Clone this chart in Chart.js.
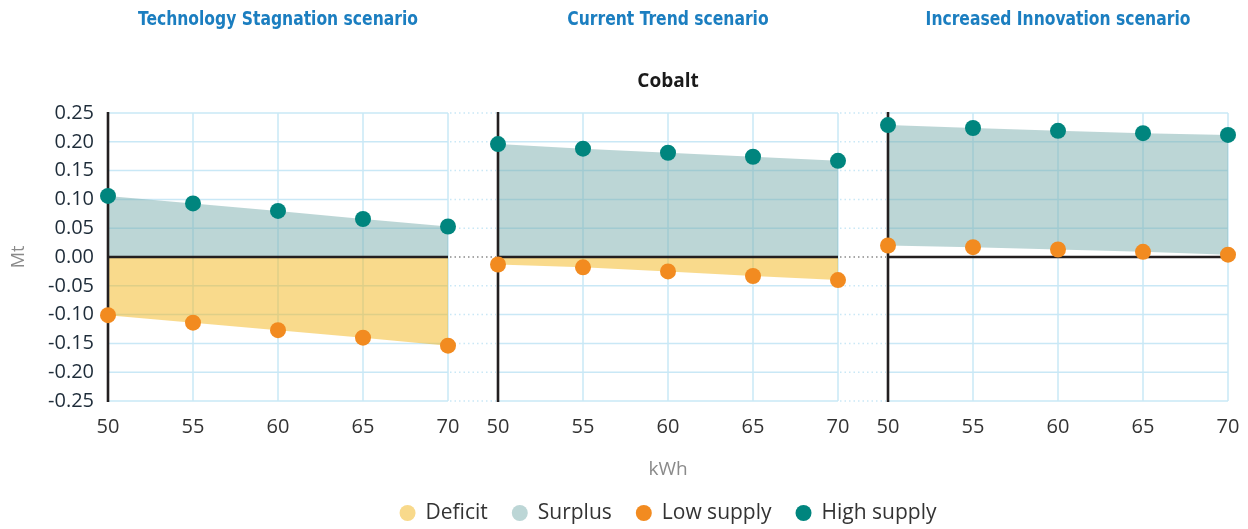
<!DOCTYPE html>
<html>
<head>
<meta charset="utf-8">
<script src="https://cdn.jsdelivr.net/npm/chart.js@4.4.1/dist/chart.umd.min.js"></script>
<style>
html,body{margin:0;padding:0;background:#fff;}
#wrap{position:relative;width:1248px;height:529px;}
canvas{display:block;}
</style>
</head>
<body>
<div id="wrap"><canvas id="c" width="1248" height="529"></canvas></div>
<script>
// ---------- data ----------
const scenarioTitles = ['Technology Stagnation scenario', 'Current Trend scenario', 'Increased Innovation scenario'];
const chartTitle = 'Cobalt';
const kwh = [50, 55, 60, 65, 70];
const xTickLabels = ['50', '55', '60', '65', '70'];
const highStagnation = [0.106, 0.093, 0.080, 0.066, 0.053];
const lowStagnation = [-0.101, -0.114, -0.127, -0.140, -0.154];
const highCurrent = [0.196, 0.188, 0.181, 0.174, 0.167];
const lowCurrent = [-0.013, -0.018, -0.025, -0.033, -0.040];
const highInnovation = [0.229, 0.224, 0.219, 0.215, 0.212];
const lowInnovation = [0.020, 0.017, 0.013, 0.009, 0.004];
const yTickValues = [-0.25, -0.2, -0.15, -0.1, -0.05, 0, 0.05, 0.1, 0.15, 0.2, 0.25];
const yTickLabels = ['-0.25', '-0.20', '-0.15', '-0.10', '-0.05', '0.00', '0.05', '0.10', '0.15', '0.20', '0.25'];
const seriesNames = ['Deficit', 'Surplus', 'Low supply', 'High supply'];
const yTitle = 'Mt';
const xTitle = 'kWh';

// ---------- styles ----------
const C_DEFICIT_FILL = 'rgba(243,181,26,0.5)';
const C_SURPLUS_FILL = 'rgba(121,173,173,0.5)';
const C_LOW = '#f28b20';
const C_HIGH = '#00857e';
const legendColors = ['#f8d98b', '#bcd6d6', C_LOW, C_HIGH];
const GRID = '#c9e8f6';
const AXIS = '#231f20';
const BODY_FONT = '"Open Sans", Lato, sans-serif';
const TITLE_FONT = '"Liberation Sans Narrow", "DejaVu Sans Condensed", sans-serif';
const TITLE_SQUEEZE = 0.865;

// panel layout along one linear x axis (in kWh units)
const PANEL_WIDTH = 20;
const GAP = 50 / 17;
const SPAN = PANEL_WIDTH + GAP;
const shifts = [0, SPAN, 2 * SPAN];
const xMax = 2 * SPAN + PANEL_WIDTH;
const firstKwh = kwh[0];

const highs = [highStagnation, highCurrent, highInnovation];
const lows = [lowStagnation, lowCurrent, lowInnovation];

const xTickPositions = [];
shifts.forEach(s => kwh.forEach(k => xTickPositions.push(k - firstKwh + s)));

function pts(values, p) {
  return values.map((v, i) => ({ x: kwh[i] - firstKwh + shifts[p], y: v }));
}

const datasets = [];
for (let p = 0; p < 3; p++) {
  const lowPositive = p === 2;
  datasets.push({
    label: 'High supply',
    data: pts(highs[p], p),
    showLine: true,
    borderWidth: 0,
    borderColor: 'transparent',
    backgroundColor: C_SURPLUS_FILL,
    pointBackgroundColor: C_HIGH,
    pointBorderWidth: 0,
    pointRadius: 8,
    pointHoverRadius: 8,
    tension: 0,
    fill: lowPositive ? p * 2 + 1 : 'origin',
    clip: false
  });
  datasets.push({
    label: 'Low supply',
    data: pts(lows[p], p),
    showLine: true,
    borderWidth: 0,
    borderColor: 'transparent',
    backgroundColor: C_DEFICIT_FILL,
    pointBackgroundColor: C_LOW,
    pointBorderWidth: 0,
    pointRadius: 8,
    pointHoverRadius: 8,
    tension: 0,
    fill: lowPositive ? false : 'origin',
    clip: false
  });
}

const panelsPlugin = {
  id: 'panels',
  beforeDraw(chart) {
    const { ctx, scales: { x, y } } = chart;
    const top = y.getPixelForValue(0.25), bottom = y.getPixelForValue(-0.25);
    ctx.save();
    ctx.lineWidth = 1.5;
    ctx.strokeStyle = GRID;
    for (let p = 0; p < 3; p++) {
      const L = x.getPixelForValue(shifts[p]);
      const R = x.getPixelForValue(shifts[p] + PANEL_WIDTH);
      ctx.setLineDash([]);
      yTickValues.forEach(v => {
        const py = y.getPixelForValue(v);
        ctx.beginPath(); ctx.moveTo(L, py); ctx.lineTo(R, py); ctx.stroke();
      });
      kwh.forEach(k => {
        const px = x.getPixelForValue(k - firstKwh + shifts[p]);
        ctx.beginPath(); ctx.moveTo(px, top); ctx.lineTo(px, bottom); ctx.stroke();
      });
      if (p < 2) {
        const nL = x.getPixelForValue(shifts[p + 1]);
        ctx.setLineDash([1.5, 3]);
        yTickValues.forEach(v => {
          const py = y.getPixelForValue(v);
          ctx.strokeStyle = v === 0 ? '#8a8a8a' : GRID;
          ctx.beginPath(); ctx.moveTo(R + 2, py); ctx.lineTo(nL - 2, py); ctx.stroke();
        });
        ctx.strokeStyle = GRID;
      }
    }
    ctx.restore();
  },
  beforeDatasetsDraw(chart) {
    const { ctx, scales: { x, y } } = chart;
    const top = y.getPixelForValue(0.25), bottom = y.getPixelForValue(-0.25);
    const zero = y.getPixelForValue(0);
    ctx.save();
    ctx.strokeStyle = AXIS;
    ctx.lineWidth = 2.6;
    for (let p = 0; p < 3; p++) {
      const L = x.getPixelForValue(shifts[p]);
      const R = x.getPixelForValue(shifts[p] + PANEL_WIDTH);
      ctx.beginPath(); ctx.moveTo(L, zero); ctx.lineTo(R, zero); ctx.stroke();
      ctx.beginPath(); ctx.moveTo(L, top - 1); ctx.lineTo(L, bottom + 1); ctx.stroke();
    }
    ctx.restore();
  },
  afterDraw(chart) {
    const { ctx, scales: { x } } = chart;
    ctx.save();
    // scenario titles (condensed bold)
    ctx.fillStyle = '#1b7ec0';
    ctx.font = 'bold 20px ' + TITLE_FONT;
    ctx.textAlign = 'center';
    ctx.textBaseline = 'alphabetic';
    for (let p = 0; p < 3; p++) {
      const cx = (x.getPixelForValue(shifts[p]) + x.getPixelForValue(shifts[p] + PANEL_WIDTH)) / 2;
      ctx.save();
      ctx.translate(cx, 25);
      ctx.scale(TITLE_SQUEEZE, 1);
      ctx.fillText(scenarioTitles[p], 0, 0);
      ctx.restore();
    }
    const mid = (chart.chartArea.left + chart.chartArea.right) / 2;
    // chart title
    ctx.fillStyle = '#1a1a1a';
    ctx.font = 'bold 19px ' + BODY_FONT;
    ctx.fillText(chartTitle, mid, 87);
    // x title
    ctx.fillStyle = '#8a8a8a';
    ctx.font = '19px ' + BODY_FONT;
    ctx.fillText(xTitle, mid, 475);
    // legend
    ctx.font = '21px ' + BODY_FONT;
    const r = 8, gapText = 10, gapItem = 24;
    const widths = seriesNames.map(n => ctx.measureText(n).width);
    let total = 0;
    widths.forEach((w, i) => { total += 2 * r + gapText + w + (i < widths.length - 1 ? gapItem : 0); });
    let cx = mid - total / 2;
    const ly = 513;
    ctx.textAlign = 'left';
    ctx.textBaseline = 'middle';
    seriesNames.forEach((n, i) => {
      ctx.fillStyle = legendColors[i];
      ctx.beginPath(); ctx.arc(cx + r, ly, r, 0, Math.PI * 2); ctx.fill();
      ctx.fillStyle = '#333333';
      ctx.fillText(n, cx + 2 * r + gapText, ly);
      cx += 2 * r + gapText + widths[i] + gapItem;
    });
    ctx.restore();
  }
};

const target = { left: 108, right: 1228, top: 113, bottom: 401 };
const chart = new Chart(document.getElementById('c'), {
  type: 'scatter',
  data: { datasets },
  options: {
    responsive: false,
    devicePixelRatio: 1,
    animation: false,
    events: [],
    layout: { padding: { top: 113, right: 20, bottom: 0, left: 0 } },
    plugins: {
      legend: { display: false },
      tooltip: { enabled: false },
      filler: { drawTime: 'beforeDatasetsDraw' }
    },
    scales: {
      x: {
        type: 'linear',
        min: 0,
        max: xMax,
        afterBuildTicks: axis => { axis.ticks = xTickPositions.map(v => ({ value: v })); },
        afterFit: axis => { axis.height = 128; axis.paddingLeft = 0; axis.paddingRight = 0; },
        ticks: {
          autoSkip: false,
          maxRotation: 0,
          padding: 14,
          color: '#333333',
          font: { family: BODY_FONT, size: 20 },
          callback: (v, i) => xTickLabels[i % xTickLabels.length]
        },
        grid: { display: false, drawTicks: false },
        border: { display: false }
      },
      y: {
        min: -0.25,
        max: 0.25,
        afterBuildTicks: axis => { axis.ticks = yTickValues.map(v => ({ value: v })); },
        afterFit: axis => { axis.width = 108; axis.paddingTop = 0; axis.paddingBottom = 0; },
        ticks: {
          padding: 14,
          color: '#1e2c39',
          font: { family: BODY_FONT, size: 20 },
          callback: (v, i) => yTickLabels[i]
        },
        title: {
          display: true,
          text: yTitle,
          color: '#8a8a8a',
          font: { family: BODY_FONT, size: 18 },
          padding: { top: 8, bottom: 0 }
        },
        grid: { display: false, drawTicks: false },
        border: { display: false }
      }
    }
  },
  plugins: [panelsPlugin]
});

// align the plot area with the reference layout
for (let k = 0; k < 3; k++) {
  const ca = chart.chartArea;
  const pad = chart.options.layout.padding;
  chart.options.layout.padding = {
    left: pad.left + (target.left - ca.left),
    top: pad.top + (target.top - ca.top),
    right: pad.right + (ca.right - target.right),
    bottom: pad.bottom + (ca.bottom - target.bottom)
  };
  chart.update();
}
</script>
</body>
</html>
